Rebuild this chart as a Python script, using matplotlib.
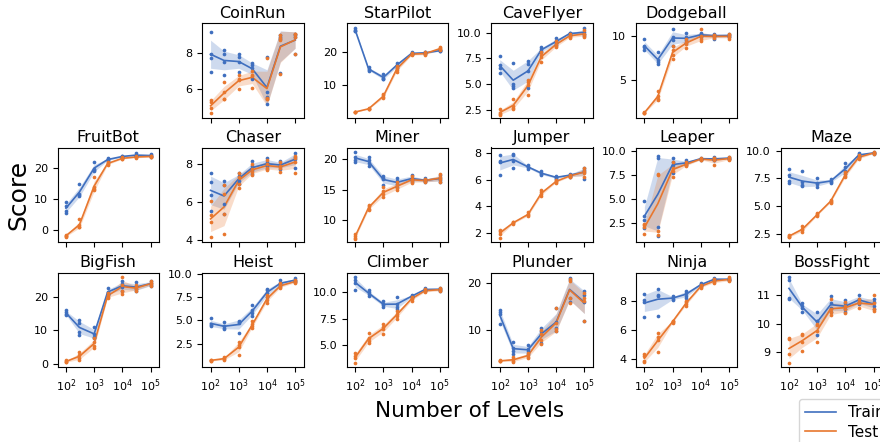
import numpy as np
import matplotlib
matplotlib.use("Agg")
import matplotlib.pyplot as plt

# number of training levels (x axis)
levels = [100, 300, 1000, 3000, 10000, 30000, 100000]

# per-seed scores, one row per level
coinrun_train = [[9.17, 7.95, 7.75, 6.95], [8.19, 7.95, 7.5, 6.8], [7.95, 7.8, 7.5, 6.95],
                 [7.45, 7.35, 7.2, 6.6], [7.8, 5.85, 5.6, 5.18], [9.0, 8.9, 8.8, 6.9],
                 [9.1, 9.0, 8.9, 7.95]]
coinrun_test = [[5.4, 5.3, 5.0, 4.67], [6.4, 5.85, 5.5, 5.45], [6.8, 6.6, 6.55, 6.0],
                [7.05, 6.8, 6.75, 6.1], [7.75, 5.55, 5.45, 5.45], [9.0, 8.85, 8.75, 6.85],
                [9.1, 9.05, 8.9, 7.95]]
starpilot_train = [[27.0, 26.6, 26.3, 26.2], [15.5, 15.0, 14.6, 14.4], [13.3, 12.3, 12.0, 11.8],
                   [16.8, 16.2, 15.8, 15.3], [19.9, 19.6, 19.4, 19.2], [20.0, 19.8, 19.6, 19.4],
                   [20.5, 20.4, 20.3, 20.1]]
starpilot_test = [[2.1, 2.05, 2.0, 1.95], [3.1, 3.0, 2.95, 2.9], [7.5, 7.0, 6.4, 6.2],
                  [15.8, 15.2, 14.6, 14.0], [19.7, 19.4, 19.2, 18.9], [19.9, 19.6, 19.3, 19.0],
                  [21.3, 21.0, 20.8, 20.6]]
caveflyer_train = [[7.7, 6.8, 6.55, 6.1], [7.05, 5.0, 4.8, 4.6], [7.25, 6.9, 6.3, 4.6],
                   [8.6, 8.4, 8.2, 8.1], [9.5, 9.2, 9.0, 8.8], [10.0, 9.95, 9.85, 9.8],
                   [10.4, 10.1, 9.9, 9.7]]
caveflyer_test = [[2.55, 2.2, 2.1, 2.0], [3.5, 2.85, 2.7, 2.6], [5.4, 5.15, 4.85, 3.95],
                  [8.1, 7.8, 7.6, 7.15], [9.2, 8.9, 8.7, 8.6], [9.9, 9.7, 9.6, 9.5],
                  [10.2, 9.9, 9.8, 9.6]]
dodgeball_train = [[9.7, 8.9, 8.73, 8.38], [8.15, 7.3, 7.05, 6.85], [10.9, 9.9, 9.6, 8.85],
                   [10.4, 9.9, 9.6, 9.2], [10.4, 10.3, 10.1, 9.9], [10.3, 10.2, 10.05, 9.75],
                   [10.3, 10.2, 10.0, 9.9]]
dodgeball_test = [[1.3, 1.25, 1.2, 1.15], [3.7, 3.15, 2.85, 2.7], [8.92, 8.4, 7.9, 7.4],
                  [9.7, 9.4, 9.1, 8.7], [10.8, 10.0, 9.7, 9.5], [10.2, 10.1, 9.9, 9.8],
                  [10.25, 10.1, 9.9, 9.75]]
fruitbot_train = [[8.9, 7.8, 6.0, 5.5], [14.9, 11.8, 11.4, 11.0], [22.0, 19.8, 19.3, 19.0],
                  [23.2, 22.9, 22.7, 22.4], [24.1, 23.9, 23.7, 23.5], [24.8, 24.3, 24.0, 23.8],
                  [24.6, 24.2, 23.9, 23.7]]
fruitbot_test = [[-1.5, -1.8, -2.0, -2.2], [3.4, 1.5, 1.0, 0.8], [17.0, 13.8, 13.2, 12.8],
                 [22.0, 21.7, 21.4, 21.0], [23.5, 23.3, 23.1, 22.9], [24.0, 23.7, 23.5, 23.3],
                 [24.1, 23.9, 23.7, 23.5]]
chaser_train = [[7.55, 7.05, 6.35, 5.5], [7.13, 6.87, 5.9, 5.36], [7.52, 7.35, 7.1, 6.95],
                [8.15, 7.9, 7.7, 7.5], [8.35, 8.1, 7.9, 7.75], [8.15, 8.0, 7.9, 7.75],
                [8.6, 8.4, 8.25, 7.8]]
chaser_test = [[6.03, 5.32, 4.92, 4.14], [6.9, 6.4, 5.35, 4.28], [7.55, 7.3, 6.95, 6.75],
               [8.0, 7.75, 7.6, 7.45], [8.2, 8.0, 7.8, 7.7], [8.1, 7.9, 7.8, 7.6],
               [8.45, 8.35, 8.1, 7.55]]
miner_train = [[21.1, 20.4, 19.8, 19.5], [20.3, 19.8, 19.4, 18.9], [17.3, 17.0, 16.7, 15.7],
               [17.0, 16.4, 15.9, 15.5], [17.4, 17.0, 16.6, 16.3], [16.9, 16.6, 16.4, 16.3],
               [17.4, 17.0, 16.6, 16.3]]
miner_test = [[7.8, 7.5, 7.2, 7.0], [12.5, 12.3, 11.9, 11.7], [15.4, 14.8, 14.3, 13.8],
              [16.2, 15.8, 15.3, 14.9], [17.2, 16.8, 16.4, 16.1], [16.8, 16.6, 16.4, 16.2],
              [17.5, 17.1, 16.7, 16.3]]
jumper_train = [[7.85, 7.45, 7.35, 6.4], [7.95, 7.85, 7.45, 6.88], [7.1, 7.0, 6.95, 6.85],
                [6.65, 6.55, 6.45, 6.35], [6.3, 6.2, 6.15, 6.1], [6.45, 6.4, 6.3, 6.25],
                [6.9, 6.75, 6.6, 6.1]]
jumper_test = [[2.25, 2.15, 1.95, 1.65], [2.85, 2.8, 2.75, 2.7], [3.55, 3.45, 3.35, 3.25],
               [5.2, 5.05, 4.95, 4.8], [6.0, 5.9, 5.85, 5.8], [6.4, 6.3, 6.25, 6.2],
               [6.9, 6.7, 6.55, 6.2]]
leaper_train = [[4.8, 3.2, 2.8, 2.0], [9.45, 9.3, 2.1, 1.1], [9.3, 8.8, 8.5, 7.7],
                [9.0, 8.8, 8.7, 8.5], [9.3, 9.2, 9.15, 9.1], [9.35, 9.2, 9.1, 9.0],
                [9.35, 9.3, 9.2, 9.15]]
leaper_test = [[2.35, 2.25, 2.1, 1.4], [7.6, 7.45, 1.65, 1.3], [8.85, 8.2, 7.9, 7.3],
               [8.8, 8.65, 8.55, 8.4], [9.25, 9.2, 9.1, 9.05], [9.3, 9.25, 9.1, 8.5],
               [9.35, 9.25, 9.15, 9.05]]
maze_train = [[8.33, 7.8, 7.22, 7.1], [8.12, 7.2, 6.9, 6.8], [7.5, 7.1, 6.95, 6.75],
              [7.45, 7.3, 7.2, 7.1], [8.85, 8.5, 8.2, 7.9], [9.75, 9.65, 9.55, 9.45],
              [9.9, 9.8, 9.75, 9.7]]
maze_test = [[2.45, 2.35, 2.25, 2.2], [3.2, 3.0, 2.85, 2.7], [4.35, 4.28, 4.22, 4.15],
             [5.6, 5.5, 5.4, 5.3], [8.1, 7.9, 7.7, 7.6], [9.6, 9.45, 9.35, 9.2],
             [9.85, 9.8, 9.75, 9.7]]
bigfish_train = [[16.0, 15.3, 14.9, 14.4], [13.1, 12.1, 9.6, 8.5], [11.0, 9.0, 8.0, 7.6],
                 [22.5, 21.5, 20.9, 20.5], [24.6, 23.6, 22.8, 21.8], [24.4, 23.0, 22.2, 21.7],
                 [24.7, 24.0, 23.5, 23.1]]
bigfish_test = [[1.0, 0.8, 0.6, 0.4], [3.6, 2.6, 1.6, 1.2], [7.7, 6.5, 5.2, 4.8],
                [21.0, 20.4, 20.0, 19.6], [25.8, 23.5, 21.8, 20.8], [23.4, 22.7, 22.2, 21.8],
                [24.5, 24.0, 23.6, 23.2]]
heist_train = [[5.25, 4.6, 4.5, 4.4], [4.8, 4.4, 4.2, 4.1], [4.95, 4.85, 4.75, 3.7],
               [6.6, 6.1, 5.8, 5.5], [8.4, 8.2, 7.9, 7.5], [9.3, 9.0, 8.85, 8.7],
               [9.5, 9.35, 9.25, 9.15]]
heist_test = [[0.8, 0.75, 0.7, 0.65], [1.1, 0.95, 0.85, 0.75], [2.7, 2.4, 2.2, 1.3],
              [4.9, 4.6, 4.4, 4.2], [7.7, 7.45, 7.2, 6.9], [8.95, 8.75, 8.6, 8.5],
              [9.35, 9.2, 9.1, 9.0]]
climber_train = [[11.35, 11.1, 10.85, 10.2], [10.15, 9.95, 9.8, 9.6], [9.1, 8.9, 8.75, 8.6],
                 [9.5, 8.9, 8.6, 8.4], [9.7, 9.6, 9.55, 9.5], [10.4, 10.25, 10.15, 10.05],
                 [10.35, 10.3, 10.2, 10.1]]
climber_test = [[4.25, 4.05, 3.85, 3.35], [6.15, 5.7, 5.45, 5.25], [7.0, 6.75, 6.5, 6.1],
                [8.25, 7.95, 7.75, 7.5], [9.55, 9.4, 9.3, 9.15], [10.25, 10.15, 10.05, 9.95],
                [10.35, 10.25, 10.15, 10.05]]
plunder_train = [[14.3, 14.0, 13.4, 11.3], [7.5, 6.3, 5.6, 5.0], [6.9, 6.0, 5.6, 4.9],
                 [10.5, 9.9, 9.3, 7.3], [14.8, 11.8, 10.5, 9.9], [21.2, 20.8, 17.0, 16.0],
                 [18.5, 17.5, 16.0, 12.0]]
plunder_test = [[3.6, 3.5, 3.45, 3.4], [4.3, 3.8, 3.5, 3.3], [5.2, 4.8, 4.4, 4.1],
                [10.0, 9.2, 8.0, 7.0], [14.7, 11.5, 10.3, 9.9], [21.0, 20.6, 17.0, 15.9],
                [18.0, 16.8, 16.2, 12.1]]
ninja_train = [[8.5, 8.05, 7.95, 6.9], [8.78, 8.39, 8.3, 6.97], [8.3, 8.25, 8.15, 8.05],
               [8.7, 8.55, 8.35, 8.2], [9.2, 9.12, 9.08, 9.0], [9.55, 9.5, 9.45, 9.4],
               [9.55, 9.5, 9.45, 9.4]]
ninja_test = [[4.4, 4.25, 3.86, 3.8], [5.8, 5.5, 5.35, 4.5], [6.65, 6.6, 6.55, 6.5],
              [8.0, 7.9, 7.8, 7.65], [9.1, 9.0, 8.95, 8.9], [9.5, 9.4, 9.3, 9.2],
              [9.6, 9.5, 9.4, 9.35]]
bossfight_train = [[11.62, 11.5, 10.9, 10.85], [10.7, 10.6, 10.55, 10.4], [10.4, 10.1, 10.1, 9.6],
                   [10.97, 10.7, 10.55, 10.4], [10.8, 10.7, 10.5, 10.4], [11.0, 10.85, 10.75, 10.68],
                   [10.85, 10.75, 10.6, 10.5]]
bossfight_test = [[9.5, 9.45, 8.95, 8.65], [9.65, 9.6, 9.35, 9.05], [10.0, 9.95, 9.75, 9.35],
                  [10.85, 10.5, 10.4, 10.3], [10.75, 10.6, 10.5, 10.35], [10.85, 10.75, 10.7, 10.55],
                  [11.0, 10.7, 10.5, 10.45]]

# y ticks per game
yticks = {
    "CoinRun": [6, 8], "StarPilot": [10, 20], "CaveFlyer": [2.5, 5.0, 7.5, 10.0],
    "Dodgeball": [5, 10], "FruitBot": [0, 10, 20], "Chaser": [4, 6, 8],
    "Miner": [10, 15, 20], "Jumper": [2, 4, 6, 8], "Leaper": [2.5, 5.0, 7.5, 10.0],
    "Maze": [2.5, 5.0, 7.5, 10.0], "BigFish": [0, 10, 20], "Heist": [2.5, 5.0, 7.5, 10.0],
    "Climber": [5.0, 7.5, 10.0], "Plunder": [10, 20], "Ninja": [4, 6, 8],
    "BossFight": [9, 10, 11],
}
ylims = {
    "CoinRun": (4.43, 9.67), "StarPilot": (0.3, 28.5), "CaveFlyer": (1.7, 10.9),
    "Dodgeball": (0.65, 11.5), "FruitBot": (-3.9, 26.7), "Chaser": (3.88, 8.88),
    "Miner": (6.47, 21.9), "Jumper": (1.33, 8.43), "Leaper": (0.52, 10.35),
    "Maze": (1.79, 10.27), "BigFish": (-1.0, 27.1), "Heist": (0.0, 10.1),
    "Climber": (2.97, 11.78), "Plunder": (2.14, 22.3), "Ninja": (3.47, 9.92),
    "BossFight": (8.49, 11.76),
}

# (game, train, test, row, col)
panels = [
    ("CoinRun", coinrun_train, coinrun_test, 0, 1),
    ("StarPilot", starpilot_train, starpilot_test, 0, 2),
    ("CaveFlyer", caveflyer_train, caveflyer_test, 0, 3),
    ("Dodgeball", dodgeball_train, dodgeball_test, 0, 4),
    ("FruitBot", fruitbot_train, fruitbot_test, 1, 0),
    ("Chaser", chaser_train, chaser_test, 1, 1),
    ("Miner", miner_train, miner_test, 1, 2),
    ("Jumper", jumper_train, jumper_test, 1, 3),
    ("Leaper", leaper_train, leaper_test, 1, 4),
    ("Maze", maze_train, maze_test, 1, 5),
    ("BigFish", bigfish_train, bigfish_test, 2, 0),
    ("Heist", heist_train, heist_test, 2, 1),
    ("Climber", climber_train, climber_test, 2, 2),
    ("Plunder", plunder_train, plunder_test, 2, 3),
    ("Ninja", ninja_train, ninja_test, 2, 4),
    ("BossFight", bossfight_train, bossfight_test, 2, 5),
]

blue = "#3f6fbf"
orange = "#e8772e"

W, H = 880, 442
fig = plt.figure(figsize=(W / 100, H / 100), dpi=100)

col_left = [57.5 + 144.6 * i for i in range(6)]
row_top = [23.3, 147.5, 272.7]
ax_w, ax_h = 101.5, 94.5

x = np.array(levels, dtype=float)


def draw(ax, seeds, color):
    s = np.array(seeds)
    m = s.mean(axis=1)
    ci = 1.96 * s.std(axis=1) / np.sqrt(s.shape[1])
    ax.fill_between(x, m - ci, m + ci, color=color, alpha=0.25, lw=0)
    ax.plot(x, m, color=color, lw=1.2)
    ax.scatter(np.repeat(x, s.shape[1]), s.ravel(), s=7, color=color, lw=0, zorder=3)


for name, tr, te, r, c in panels:
    ax = fig.add_axes([col_left[c] / W, 1 - (row_top[r] + ax_h) / H, ax_w / W, ax_h / H])
    draw(ax, tr, blue)
    draw(ax, te, orange)
    ax.set_xscale("log")
    ax.set_xlim(10 ** 1.7, 10 ** 5.3)
    ax.set_xticks([1e2, 1e3, 1e4, 1e5])
    ax.minorticks_off()
    if r < 2:
        ax.set_xticklabels([])
    ax.set_yticks(yticks[name])
    ax.set_ylim(*ylims[name])
    ax.tick_params(labelsize=8)
    ax.set_title(name, fontsize=11.5, pad=4)

fig.text(18 / W, 1 - 195 / H, "Score", rotation=90, fontsize=18, ha="center", va="center")
fig.text(470 / W, 1 - 411 / H, "Number of Levels", fontsize=15.5, ha="center", va="center")

handles = [plt.Line2D([], [], color=blue, lw=1.2), plt.Line2D([], [], color=orange, lw=1.2)]
fig.legend(handles, ["Train", "Test"], loc="upper left", bbox_to_anchor=(799 / W, 1 - 399 / H),
           fontsize=11, frameon=True, handlelength=2.0, labelspacing=0.3, borderaxespad=0)

fig.savefig("out.png", dpi=100)
